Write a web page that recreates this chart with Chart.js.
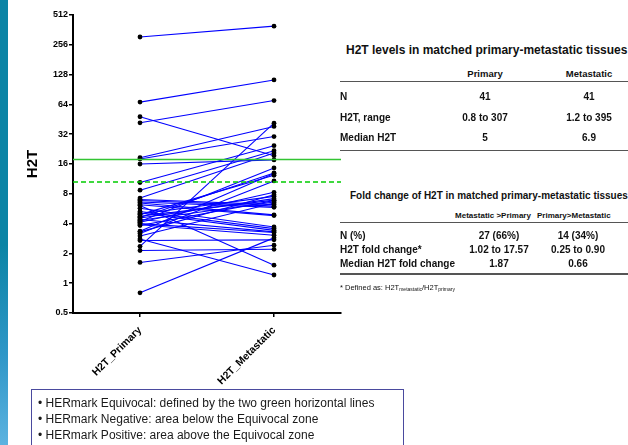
<!DOCTYPE html>
<html>
<head>
<meta charset="utf-8">
<script src="https://cdn.jsdelivr.net/npm/chart.js@4.4.1/dist/chart.umd.min.js"></script>
<style>
  html, body { margin:0; padding:0; }
  body { width:628px; height:445px; overflow:hidden; position:relative; background:#fff;
         font-family: Arial, "Liberation Sans", Helvetica, sans-serif; color:#111; }
  #strip { position:absolute; left:0; top:0; width:8px; height:445px;
           background: linear-gradient(to bottom, #0b84a5 0%, #0b84a5 55%, #2f97c8 80%, #5cb3e0 100%); }
  #chartWrap { position:absolute; left:0; top:0; width:345px; height:390px; }
  .t { position:absolute; white-space:nowrap; transform:translateY(-50%); font-weight:bold; line-height:1; }
  .c { transform:translate(-50%,-50%); }
  .rule { position:absolute; left:340px; width:288px; height:1.5px; background:#555; }
  #box { position:absolute; left:31px; top:389px; width:373px; height:70px; border:1px solid #4a4a9e;
         box-sizing:border-box; padding:6px 0 0 6px; font-size:12px; line-height:15.8px; color:#1a1a1a; }
  sub { font-size:5px; vertical-align:-1.5px; font-weight:normal; }
</style>
</head>
<body>
<div id="strip"></div>
<div id="chartWrap"><canvas id="c" width="345" height="390"></canvas></div>

<!-- Table 1 -->
<div class="t" style="left:346px; top:50px; font-size:12px;">H2T levels in matched primary-metastatic tissues</div>
<div class="t c" style="left:485px; top:74px; font-size:9.5px;">Primary</div>
<div class="t c" style="left:589px; top:74px; font-size:9.5px;">Metastatic</div>
<div class="rule" style="top:80.5px;"></div>
<div class="t" style="left:340px; top:97px; font-size:10px;">N</div>
<div class="t" style="left:340px; top:117.5px; font-size:10px;">H2T, range</div>
<div class="t" style="left:340px; top:137.5px; font-size:10px;">Median H2T</div>
<div class="t c" style="left:485px; top:97px; font-size:10px;">41</div>
<div class="t c" style="left:485px; top:117.5px; font-size:10px;">0.8 to 307</div>
<div class="t c" style="left:485px; top:137.5px; font-size:10px;">5</div>
<div class="t c" style="left:589px; top:97px; font-size:10px;">41</div>
<div class="t c" style="left:589px; top:117.5px; font-size:10px;">1.2 to 395</div>
<div class="t c" style="left:589px; top:137.5px; font-size:10px;">6.9</div>
<div class="rule" style="top:149.5px;"></div>

<!-- Table 2 -->
<div class="t" style="left:350px; top:195.5px; font-size:10px;">Fold change of H2T in matched primary-metastatic tissues</div>
<div class="t c" style="left:493px; top:216px; font-size:8px;">Metastatic &gt;Primary</div>
<div class="t" style="left:537px; top:216px; font-size:8px;">Primary&gt;Metastatic</div>
<div class="rule" style="top:221.5px;"></div>
<div class="t" style="left:340px; top:236px; font-size:10px;">N (%)</div>
<div class="t" style="left:340px; top:250px; font-size:10px;">H2T fold change*</div>
<div class="t" style="left:340px; top:264px; font-size:10px;">Median H2T fold change</div>
<div class="t c" style="left:499px; top:236px; font-size:10px;">27 (66%)</div>
<div class="t c" style="left:499px; top:250px; font-size:10px;">1.02 to 17.57</div>
<div class="t c" style="left:499px; top:264px; font-size:10px;">1.87</div>
<div class="t c" style="left:578px; top:236px; font-size:10px;">14 (34%)</div>
<div class="t c" style="left:578px; top:250px; font-size:10px;">0.25 to 0.90</div>
<div class="t c" style="left:578px; top:264px; font-size:10px;">0.66</div>
<div class="rule" style="top:273px;"></div>
<div class="t" style="left:340px; top:288px; font-size:7.5px; font-weight:normal;">* Defined as: H2T<sub>metastatic</sub>/H2T<sub>primary</sub></div>

<div id="box">
  • HERmark Equivocal: defined by the two green horizontal lines<br>
  • HERmark Negative: area below the Equivocal zone<br>
  • HERmark Positive: area above the Equivocal zone
</div>

<script>
// ---- data ----
const categories = ['H2T_Primary', 'H2T_Metastatic'];
const primaryH2T = [307, 67.5, 41.7, 48, 18.5, 18, 16, 2.36, 10.4, 8.7, 7.25, 0.8, 1.62, 2.14, 2.8, 6.08, 2.7,
                    7.0, 6.85, 6.6, 6.46, 6.2, 5.71, 5.3, 5.12, 4.4, 4.0, 3.9,
                    5.0, 4.93, 4.74, 4.6, 4.56, 4.32, 4.2, 4.12, 3.82, 3.35, 3.3, 3.17, 3.0];
const metastaticH2T = [395, 113, 70, 19.4, 38.3, 30.3, 17.6, 41.4, 24.5, 21.8, 20.7, 2.87, 2.42, 2.2, 1.21, 1.52, 2.74,
                    6.22, 6.0, 5.84, 4.9, 4.82, 3.70, 3.56, 3.42, 3.3, 3.25, 3.05,
                    7.53, 12.3, 6.9, 13.0, 7.15, 6.6, 14.6, 8.28, 6.82, 12.8, 7.84, 10.8, 6.47];
const yTicks = [0.5, 1, 2, 4, 8, 16, 32, 64, 128, 256, 512];
const equivocalBounds = [10.5, 17.8]; // lower (dashed), upper (solid)

// ---- chart ----
const datasets = primaryH2T.map((p, i) => ({
  data: [p, metastaticH2T[i]],
  borderColor: '#0000ff',
  borderWidth: 1.1,
  pointRadius: 2.4,
  pointBackgroundColor: '#000',
  pointBorderColor: '#000',
  pointBorderWidth: 0,
  fill: false,
  tension: 0
}));

const greenLines = {
  id: 'greenLines',
  afterDatasetsDraw(chart) {
    const {ctx, chartArea, scales} = chart;
    ctx.save();
    ctx.lineWidth = 1.5;
    let y = scales.y.getPixelForValue(equivocalBounds[1]);
    ctx.strokeStyle = '#33c433';
    ctx.setLineDash([]);
    ctx.beginPath(); ctx.moveTo(chartArea.left, y); ctx.lineTo(chartArea.right, y); ctx.stroke();
    y = scales.y.getPixelForValue(equivocalBounds[0]);
    ctx.strokeStyle = '#00cc00';
    ctx.setLineDash([5, 3]);
    ctx.beginPath(); ctx.moveTo(chartArea.left, y); ctx.lineTo(chartArea.right, y); ctx.stroke();
    ctx.restore();
  }
};

new Chart(document.getElementById('c'), {
  type: 'line',
  data: { labels: categories, datasets },
  options: {
    responsive: false,
    animation: false,
    devicePixelRatio: 1,
    layout: { padding: { top: 15, right: 4, left: 0, bottom: 0 } },
    plugins: { legend: { display: false }, tooltip: { enabled: false } },
    scales: {
      x: {
        type: 'category',
        offset: true,
        grid: { display: true, drawOnChartArea: false, drawTicks: true, tickLength: 4, color: '#000', lineWidth: 1.5 },
        border: { display: true, color: '#000', width: 2 },
        ticks: { color: '#000', font: { family: 'Arial, "Liberation Sans", sans-serif', size: 10.5, weight: 'bold' },
                 minRotation: 45, maxRotation: 45, padding: 7, autoSkip: false },
        afterFit(scale) { scale.height = 77; }
      },
      y: {
        type: 'logarithmic',
        min: 0.5, max: 512,
        afterBuildTicks(scale) { scale.ticks = yTicks.map(v => ({ value: v })); },
        grid: { display: true, drawOnChartArea: false, drawTicks: true, tickLength: 4, color: '#000', lineWidth: 1.5 },
        border: { display: true, color: '#000', width: 2 },
        ticks: { color: '#000', font: { family: 'Arial, "Liberation Sans", sans-serif', size: 9, weight: 'bold' },
                 padding: 1, autoSkip: false, callback: (v) => String(v) },
        title: { display: true, text: 'H2T', color: '#000',
                 font: { family: 'Arial, "Liberation Sans", sans-serif', size: 15, weight: 'bold' },
                 padding: { top: 24, bottom: 0 } },
        afterFit(scale) { scale.width = 73; }
      }
    }
  },
  plugins: [greenLines]
});
</script>
</body>
</html>
